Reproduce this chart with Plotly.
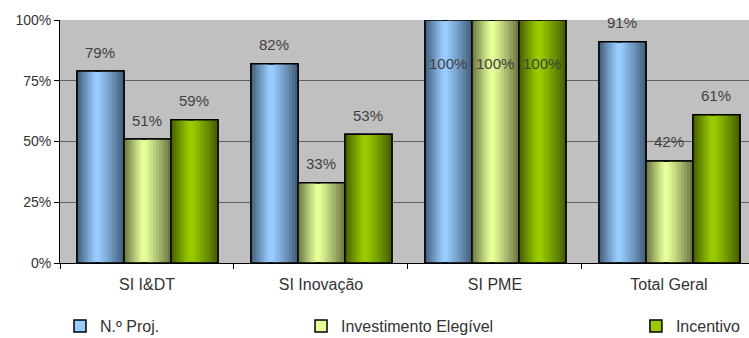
import plotly.graph_objects as go

categories = ["SI I&DT", "SI Inovação", "SI PME", "Total Geral"]
series_names = ["N.º Proj.", "Investimento Elegível", "Incentivo"]
proj = [79, 82, 100, 91]
invest = [51, 33, 100, 42]
incent = [59, 53, 100, 61]
y_ticks = [0, 25, 50, 75, 100]

values = [proj, invest, incent]
center_cols = [(153, 204, 255), (229, 255, 153), (153, 204, 0)]
edge_cols = [(70, 98, 128), (112, 122, 70), (72, 98, 0)]
legend_ids = ["legend", "legend2", "legend3"]
legend_x = [0.0801, 0.4019, 0.849]

W = 0.27
G = 0.0977
PEAK = 0.42
K = 8
FONT = "Liberation Sans, Arial, sans-serif"

def rgb(c):
    return "rgb(%d,%d,%d)" % tuple(int(round(v)) for v in c)

def lerp(a, b, t):
    return tuple(a[i] + (b[i] - a[i]) * t for i in range(3))

fig = go.Figure()
for s, vals in enumerate(values):
    left = -0.5 + G + s * W
    fig.add_trace(go.Bar(
        x=categories, y=vals, name=series_names[s], width=W, offset=left,
        marker=dict(color=rgb(center_cols[s]), line=dict(color="black", width=1.5)),
        legend=legend_ids[s], showlegend=True, hoverinfo="skip"))
    for j in range(1, K + 1):
        t = (j / K) ** 1.1
        col = rgb(lerp(center_cols[s], edge_cols[s], t))
        wl = PEAK * W * (K + 1 - j) / (K + 1)
        wr = (1 - PEAK) * W * (K + 1 - j) / (K + 1)
        fig.add_trace(go.Bar(x=categories, y=vals, width=wl, offset=left,
                             marker=dict(color=col, line=dict(width=0)),
                             showlegend=False, hoverinfo="skip"))
        fig.add_trace(go.Bar(x=categories, y=vals, width=wr, offset=left + W - wr,
                             marker=dict(color=col, line=dict(width=0)),
                             showlegend=False, hoverinfo="skip"))
    fig.add_trace(go.Bar(x=categories, y=vals, width=W, offset=left,
                         marker=dict(color="rgba(0,0,0,0)", line=dict(color="black", width=1.5)),
                         showlegend=False, hoverinfo="skip"))

annotations = []
for s, vals in enumerate(values):
    cx = -0.5 + G + s * W + W / 2
    for i, v in enumerate(vals):
        inside = v >= 95
        annotations.append(dict(
            x=i + cx, y=v, xref="x", yref="y", text="%d%%" % v, showarrow=False,
            yanchor="middle", yshift=(-43 if inside else 19),
            font=dict(family=FONT, size=15, color="#404040")))

legends = {}
for s, lid in enumerate(legend_ids):
    legends[lid] = dict(orientation="h", xref="container", yref="container",
                        x=legend_x[s], y=0.035, xanchor="left", yanchor="middle",
                        font=dict(family=FONT, size=16, color="#333333"),
                        bgcolor="rgba(0,0,0,0)")

fig.update_layout(
    width=749, height=338,
    margin=dict(l=60, r=0, t=20, b=75),
    paper_bgcolor="white", plot_bgcolor="#C0C0C0",
    barmode="overlay",
    annotations=annotations,
    font=dict(family=FONT, size=14, color="#333333"),
    xaxis=dict(type="category", range=[-0.5, 3.46], showline=True, linecolor="black",
               linewidth=1, ticks="outside", ticklen=5, tickcolor="black",
               tickson="boundaries", showgrid=False, ticklabelstandoff=7,
               tickfont=dict(family=FONT, size=16, color="#333333")),
    yaxis=dict(range=[0, 100], tickvals=y_ticks, ticktext=["%d%%" % v for v in y_ticks],
               showline=True, linecolor="black", linewidth=1, ticks="outside", ticklen=5,
               tickcolor="black", gridcolor="#606060", gridwidth=1, zeroline=False,
               tickfont=dict(family=FONT, size=14, color="#333333")),
    **legends,
)

fig.write_html("out.html")
